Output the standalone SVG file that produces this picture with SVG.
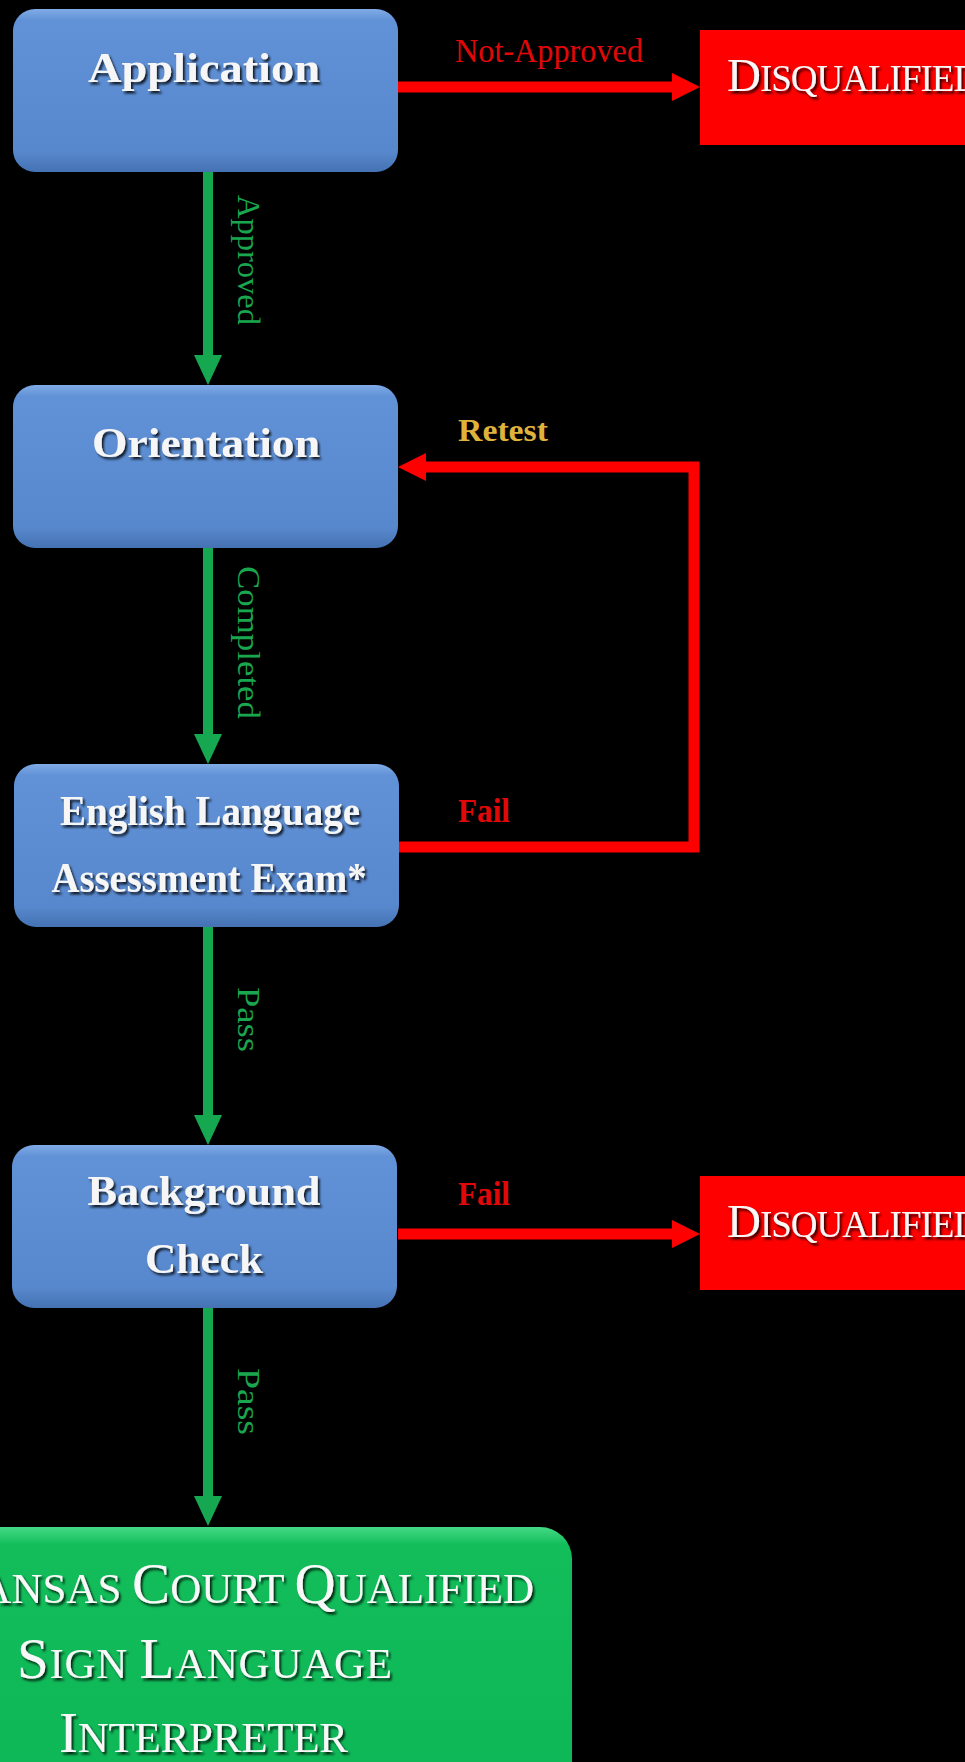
<svg xmlns="http://www.w3.org/2000/svg" width="965" height="1762" viewBox="0 0 965 1762">
<defs>
  <linearGradient id="blueGrad" x1="0" y1="0" x2="0" y2="1">
    <stop offset="0" stop-color="#80abe6"/>
    <stop offset="0.07" stop-color="#6192d7"/>
    <stop offset="0.88" stop-color="#5787cc"/>
    <stop offset="1" stop-color="#4472b3"/>
  </linearGradient>
  <linearGradient id="greenGrad" x1="0" y1="0" x2="0" y2="1">
    <stop offset="0" stop-color="#45d985"/>
    <stop offset="0.06" stop-color="#12bd5a"/>
    <stop offset="1" stop-color="#0db656"/>
  </linearGradient>
  <filter id="shadow" x="-10%" y="-30%" width="120%" height="160%">
    <feDropShadow dx="2" dy="2.5" stdDeviation="1.2" flood-color="#000" flood-opacity="0.8"/>
  </filter>
  <marker id="headGreen" viewBox="0 0 30 28" refX="0" refY="14" markerWidth="30" markerHeight="28" markerUnits="userSpaceOnUse" orient="auto">
    <path d="M0,0 L30,14 L0,28 Z" fill="#15a851"/>
  </marker>
  <marker id="headRed" viewBox="0 0 28 28" refX="0" refY="14" markerWidth="28" markerHeight="28" markerUnits="userSpaceOnUse" orient="auto">
    <path d="M0,0 L28,14 L0,28 Z" fill="#ff0000"/>
  </marker>
</defs>
<style>
  .box { fill: url(#blueGrad); }
  .ntext { font-family: "Liberation Serif", "DejaVu Serif", serif; font-weight: bold; font-size: 43px; fill: #f6f6f6; text-anchor: middle; }
  .dq { fill: #ff0000; }
  .dqtext { font-family: "Liberation Serif", "DejaVu Serif", serif; fill: #f8f8f8; letter-spacing: -1px; }
  .gtext { font-family: "Liberation Serif", "DejaVu Serif", serif; fill: #f8f8f8; }
  .green { stroke: #15a851; stroke-width: 10; fill: none; }
  .red { stroke: #ff0000; stroke-width: 11; fill: none; stroke-linejoin: miter; }
  .glabel { font-family: "Liberation Serif", "DejaVu Serif", serif; font-size: 32px; fill: #1aa64f; }
  .rlabel { font-family: "Liberation Serif", "DejaVu Serif", serif; font-size: 34px; fill: #e00808; }
  .ylabel { font-family: "Liberation Serif", "DejaVu Serif", serif; font-size: 32px; font-weight: bold; fill: #dfb23c; }
</style>
<rect x="0" y="0" width="965" height="1762" fill="#000"/>

<g id="connectors">
  <line class="green" x1="208" y1="172" x2="208" y2="355" marker-end="url(#headGreen)"/>
  <line class="green" x1="208" y1="548" x2="208" y2="734" marker-end="url(#headGreen)"/>
  <line class="green" x1="208" y1="927" x2="208" y2="1115" marker-end="url(#headGreen)"/>
  <line class="green" x1="208" y1="1308" x2="208" y2="1496" marker-end="url(#headGreen)"/>
  <line class="red" x1="398" y1="87" x2="672" y2="87" marker-end="url(#headRed)"/>
  <line class="red" x1="398" y1="1234" x2="672" y2="1234" marker-end="url(#headRed)"/>
  <polyline class="red" points="398,847 694,847 694,467 426,467" marker-end="url(#headRed)"/>
  <text class="rlabel" x="455" y="62" textLength="188" lengthAdjust="spacingAndGlyphs">Not-Approved</text>
  <text class="glabel" transform="translate(238,195) rotate(90)" textLength="130" lengthAdjust="spacingAndGlyphs">Approved</text>
  <text class="ylabel" x="458" y="441" textLength="90" lengthAdjust="spacingAndGlyphs">Retest</text>
  <text class="glabel" transform="translate(238,566) rotate(90)" textLength="153" lengthAdjust="spacingAndGlyphs">Completed</text>
  <text class="rlabel" x="458" y="822" font-size="32" font-weight="bold" textLength="52" lengthAdjust="spacingAndGlyphs">Fail</text>
  <text class="glabel" transform="translate(238,987) rotate(90)" textLength="65" lengthAdjust="spacingAndGlyphs">Pass</text>
  <text class="rlabel" x="458" y="1205" font-size="32" font-weight="bold" textLength="52" lengthAdjust="spacingAndGlyphs">Fail</text>
  <text class="glabel" transform="translate(238,1368) rotate(90)" textLength="67" lengthAdjust="spacingAndGlyphs">Pass</text>
</g>

<g id="application">
  <rect class="box" x="13" y="9" width="385" height="163" rx="22"/>
  <text class="ntext" x="204" y="82" textLength="232" lengthAdjust="spacingAndGlyphs" filter="url(#shadow)">Application</text>
</g>

<g id="disqualified1">
  <rect class="dq" x="700" y="30" width="280" height="115"/>
  <text class="dqtext" x="727" y="91" filter="url(#shadow)"><tspan font-size="47">D</tspan><tspan font-size="37">ISQUALIFIED</tspan></text>
</g>

<g id="orientation">
  <rect class="box" x="13" y="385" width="385" height="163" rx="22"/>
  <text class="ntext" x="206" y="457" textLength="228" lengthAdjust="spacingAndGlyphs" filter="url(#shadow)">Orientation</text>
</g>

<g id="english">
  <rect class="box" x="14" y="764" width="385" height="163" rx="22"/>
  <text class="ntext" x="210" y="825" font-size="41" textLength="300" lengthAdjust="spacingAndGlyphs" filter="url(#shadow)">English Language</text>
  <text class="ntext" x="209" y="892" font-size="41" textLength="315" lengthAdjust="spacingAndGlyphs" filter="url(#shadow)">Assessment Exam*</text>
</g>

<g id="background">
  <rect class="box" x="12" y="1145" width="385" height="163" rx="22"/>
  <text class="ntext" x="204" y="1205" textLength="233" lengthAdjust="spacingAndGlyphs" filter="url(#shadow)">Background</text>
  <text class="ntext" x="204" y="1273" textLength="118" lengthAdjust="spacingAndGlyphs" filter="url(#shadow)">Check</text>
</g>

<g id="disqualified2">
  <rect class="dq" x="700" y="1176" width="280" height="114"/>
  <text class="dqtext" x="727" y="1237" filter="url(#shadow)"><tspan font-size="47">D</tspan><tspan font-size="37">ISQUALIFIED</tspan></text>
</g>

<g id="qualified">
  <rect x="-170" y="1527" width="742" height="300" rx="32" fill="url(#greenGrad)"/>
  <text class="gtext" x="534" y="1603" text-anchor="end" filter="url(#shadow)"><tspan font-size="57">K</tspan><tspan font-size="43">ANSAS </tspan><tspan font-size="57">C</tspan><tspan font-size="43">OURT </tspan><tspan font-size="57">Q</tspan><tspan font-size="43">UALIFIED</tspan></text>
  <text class="gtext" x="17" y="1678" textLength="375" lengthAdjust="spacing" filter="url(#shadow)"><tspan font-size="57">S</tspan><tspan font-size="43">IGN </tspan><tspan font-size="57">L</tspan><tspan font-size="43">ANGUAGE</tspan></text>
  <text class="gtext" x="59" y="1752" textLength="289" lengthAdjust="spacing" filter="url(#shadow)"><tspan font-size="57">I</tspan><tspan font-size="43">NTERPRETER</tspan></text>
</g>
</svg>
